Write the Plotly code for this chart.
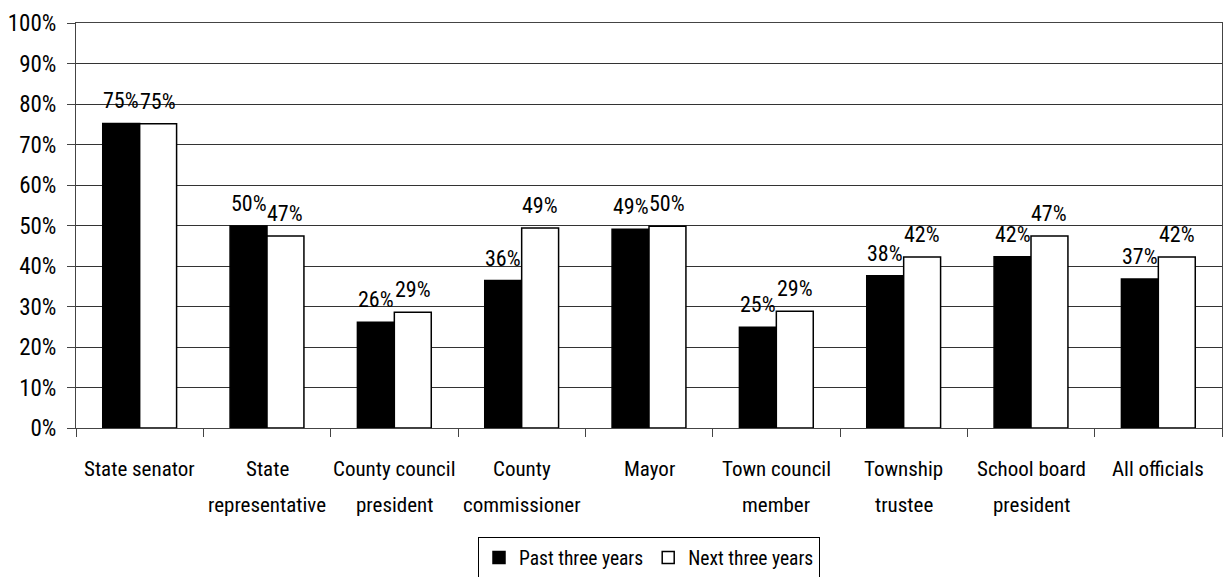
import plotly.graph_objects as go

categories = ["State senator", "State<br>representative", "County council<br>president",
              "County<br>commissioner", "Mayor", "Town council<br>member",
              "Township<br>trustee", "School board<br>president", "All officials"]
past = [75.2, 49.9, 26.1, 36.4, 49.1, 24.9, 37.6, 42.3, 36.8]
nxt = [75.1, 47.4, 28.6, 49.4, 49.8, 28.8, 42.2, 47.4, 42.2]
y_ticks = [0, 10, 20, 30, 40, 50, 60, 70, 80, 90, 100]
y_labels = [f"{v}%" for v in y_ticks]

FONT = "Roboto Condensed, Open Sans Condensed, sans-serif"

W, H = 1225, 577
ML, MR, MT, MB = 76, 3, 23, 149
BARGAP = 0.42
cat_px = (W - ML - MR) / len(categories)
bar_px = cat_px * (1 - BARGAP) / 2

fig = go.Figure()
fig.add_trace(go.Bar(x=categories, y=past, name="Past three years",
                     marker=dict(color="black", line=dict(color="black", width=1.5))))
fig.add_trace(go.Bar(x=categories, y=nxt, name="Next three years",
                     marker=dict(color="white", line=dict(color="black", width=1.5))))

# value labels above each bar
for series, shift in ((past, -bar_px / 2), (nxt, bar_px / 2)):
    for cat, v in zip(categories, series):
        fig.add_annotation(x=cat, y=v, xref="x", yref="y", text=f"{v:.0f}%",
                           showarrow=False, xanchor="center", yanchor="bottom",
                           xshift=shift, yshift=8,
                           font=dict(family=FONT, size=22, color="black"))

# category labels as annotations (two-line labels with wide line spacing)
for cat in categories:
    lines = cat.split("<br>")
    for j, line in enumerate(lines):
        fig.add_annotation(x=cat, xref="x", y=0, yref="paper", text=line,
                           showarrow=False, xanchor="center", yanchor="middle",
                           yshift=-41 - 36 * j,
                           font=dict(family=FONT, size=21, color="black"))

fig.update_layout(
    width=W, height=H,
    margin=dict(l=ML, r=MR, t=MT, b=MB, autoexpand=False),
    barmode="group", bargap=BARGAP, bargroupgap=0,
    plot_bgcolor="white", paper_bgcolor="white",
    font=dict(family=FONT, size=21, color="black"),
    showlegend=True,
    legend=dict(orientation="h", x=0.5, xanchor="center", y=-0.27, yanchor="top",
                bordercolor="black", borderwidth=1, font=dict(size=19.5),
                itemwidth=30, tracegroupgap=0),
    xaxis=dict(type="category", tickson="boundaries", ticks="outside", ticklen=8,
               tickcolor="#444", showgrid=False, showline=True, linecolor="#444",
               linewidth=1, mirror=True, showticklabels=False, automargin=False),
    yaxis=dict(range=[0, 100], tickvals=y_ticks, ticktext=y_labels, ticks="outside",
               ticklen=8, tickcolor="#444", showgrid=True, gridcolor="#333", gridwidth=1,
               showline=True, linecolor="#444", linewidth=1, mirror=True,
               tickfont=dict(size=23), ticklabelstandoff=6, zeroline=False,
               automargin=False),
)

fig.write_html("out.html", config={"displayModeBar": False},
               post_script="document.body.style.margin='0';document.body.style.overflow='hidden';")
